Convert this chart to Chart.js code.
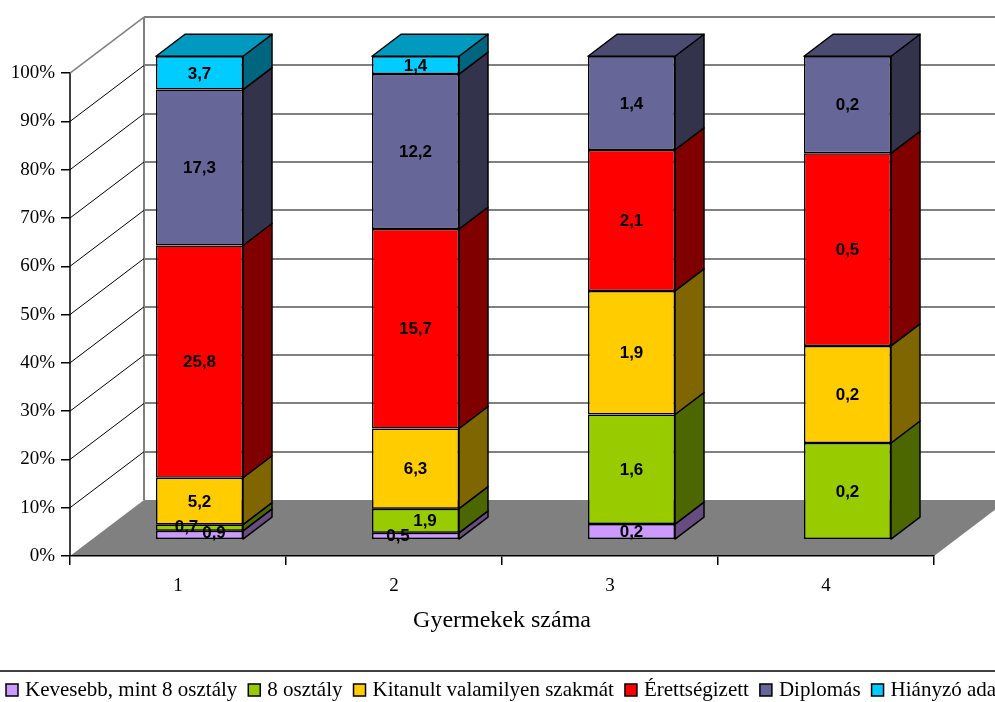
<!DOCTYPE html>
<html><head><meta charset="utf-8">
<script src="https://cdn.jsdelivr.net/npm/chart.js@4.4.1/dist/chart.umd.min.js"></script>
<style>html,body{margin:0;padding:0;background:#fff;overflow:hidden}canvas{display:block}</style>
</head><body>
<canvas id="c" width="995" height="702"></canvas>
<script>
// ---- data ----
const categories = ['1', '2', '3', '4'];
const seriesNames = ['Kevesebb, mint 8 osztály', '8 osztály', 'Kitanult valamilyen szakmát', 'Érettségizett', 'Diplomás', 'Hiányzó adat'];
// plotted share of each group within a bar (percent)
const kevesebbShare   = [1.7, 1.3, 3.1, null];
const osztaly8Share   = [1.3, 5.0, 22.7, 19.9];
const szakmaShare     = [9.7, 16.6, 25.6, 20.1];
const erettsegiShare  = [48.1, 41.3, 29.2, 39.9];
const diplomasShare   = [32.3, 32.1, 19.4, 20.1];
const hianyzoShare    = [6.9, 3.7, null, null];
// data labels printed on the bars
const kevesebbLabel   = [0.9, 0.5, 0.2, null];
const osztaly8Label   = [0.7, 1.9, 1.6, 0.2];
const szakmaLabel     = [5.2, 6.3, 1.9, 0.2];
const erettsegiLabel  = [25.8, 15.7, 2.1, 0.5];
const diplomasLabel   = [17.3, 12.2, 1.4, 0.2];
const hianyzoLabel    = [3.7, 1.4, null, null];
const yTickValues = [0, 10, 20, 30, 40, 50, 60, 70, 80, 90, 100];
const xTitle = 'Gyermekek száma';

// ---- styles ----
const frontColors = ['#CC99FF', '#99CC00', '#FFCC00', '#FF0000', '#666699', '#00CCFF'];
const sideColors  = ['#664C80', '#4C6600', '#806600', '#800000', '#33334C', '#006680'];
const topColors   = ['#9973BF', '#739900', '#BF9900', '#BF0000', '#4C4C73', '#0099BF'];
const shares = [kevesebbShare, osztaly8Share, szakmaShare, erettsegiShare, diplomasShare, hianyzoShare];
const labels = [kevesebbLabel, osztaly8Label, szakmaLabel, erettsegiLabel, diplomasLabel, hianyzoLabel];

// geometry of the 3D box (pixels)
const WALL_DX = 74, WALL_DY = -56;     // depth of the floor / walls
const BAR_SHIFT_X = 21.5;              // bars sit behind the front plane
const BAR_BASE_UP = 17;                // bar base above the front floor edge
const BAR_DX = 29, BAR_DY = -22;       // depth of each bar
const TOP_PAD = 15, BOTTOM_Y = 556, Y100 = 71;
const PLOT_H = BOTTOM_Y - TOP_PAD;
const PX_PER_UNIT = (BOTTOM_Y - Y100) / 100;
const CAT_W = (934 - 70) / categories.length;

const labelNudge = { '0-0': [14.5, -3], '1-0': [-13, -1], '0-1': [-17.5, -1], '1-1': [9.5, 0] };

const datasets = seriesNames.map((name, di) => ({
  label: name,
  data: categories.map((c, i) => ({ x: i + 1, y: shares[di][i] })),
  backgroundColor: frontColors[di],
  borderColor: '#000',
  borderWidth: 1.5,
  borderSkipped: false,
  inflateAmount: 0,
  barThickness: 87,
  xAxisID: 'xb',
  yAxisID: 'yb'
}));

const box3d = {
  id: 'box3d',
  beforeDraw(chart) {
    const { ctx, chartArea: ca, scales: { y } } = chart;
    const xL = ca.left, xR = ca.right;
    const y0 = y.getPixelForValue(0), y100 = y.getPixelForValue(100);
    ctx.save();
    ctx.fillStyle = '#fff';
    ctx.fillRect(0, 0, chart.width, chart.height);
    // floor
    ctx.fillStyle = '#808080';
    ctx.beginPath();
    ctx.moveTo(xL, y0); ctx.lineTo(xR, y0); ctx.lineTo(xR + WALL_DX, y0 + WALL_DY); ctx.lineTo(xL + WALL_DX, y0 + WALL_DY);
    ctx.closePath(); ctx.fill();
    // back wall grid lines
    ctx.strokeStyle = '#808080'; ctx.lineWidth = 2;
    yTickValues.forEach(v => {
      if (v === 0) return;
      const py = Math.round(y.getPixelForValue(v) + WALL_DY);
      ctx.beginPath(); ctx.moveTo(xL + WALL_DX, py); ctx.lineTo(xR + WALL_DX + 20, py); ctx.stroke();
    });
    // back wall left edge
    ctx.beginPath(); ctx.moveTo(xL + WALL_DX, y100 + WALL_DY); ctx.lineTo(xL + WALL_DX, y0 + WALL_DY); ctx.stroke();
    // top edge of side wall
    ctx.lineWidth = 1.5;
    ctx.beginPath(); ctx.moveTo(xL, y100); ctx.lineTo(xL + WALL_DX, y100 + WALL_DY); ctx.stroke();
    // side wall grid lines
    ctx.strokeStyle = '#000'; ctx.lineWidth = 1;
    yTickValues.forEach(v => {
      if (v === 0 || v === 100) return;
      const py = y.getPixelForValue(v);
      ctx.beginPath(); ctx.moveTo(xL, py); ctx.lineTo(xL + WALL_DX, py + WALL_DY); ctx.stroke();
    });
    // front vertical axis line
    ctx.lineWidth = 1.5;
    ctx.beginPath(); ctx.moveTo(xL, y100); ctx.lineTo(xL, y0); ctx.stroke();
    ctx.restore();
  },
  afterDatasetsDraw(chart) {
    const ctx = chart.ctx;
    ctx.save();
    ctx.strokeStyle = '#000'; ctx.lineWidth = 1.5; ctx.lineJoin = 'round';
    const poly = (pts, fill) => {
      ctx.beginPath(); ctx.moveTo(pts[0][0], pts[0][1]);
      for (let k = 1; k < pts.length; k++) ctx.lineTo(pts[k][0], pts[k][1]);
      ctx.closePath(); ctx.fillStyle = fill; ctx.fill(); ctx.stroke();
    };
    const n = chart.data.datasets.length;
    chart.data.datasets.forEach((ds, di) => {
      const meta = chart.getDatasetMeta(di);
      meta.data.forEach((el, i) => {
        if (shares[di][i] == null) return;
        const p = el.getProps(['x', 'y', 'base', 'width'], true);
        const l = p.x - p.width / 2, r = p.x + p.width / 2;
        poly([[r, p.y], [r + BAR_DX, p.y + BAR_DY], [r + BAR_DX, p.base + BAR_DY], [r, p.base]], sideColors[di]);
        let top = true;
        for (let k = di + 1; k < n; k++) if (shares[k][i] != null) top = false;
        if (top) poly([[l, p.y], [l + BAR_DX, p.y + BAR_DY], [r + BAR_DX, p.y + BAR_DY], [r, p.y]], topColors[di]);
      });
    });
    // data labels
    ctx.font = 'bold 17px "Liberation Sans", Arial, sans-serif';
    ctx.textAlign = 'center'; ctx.textBaseline = 'middle'; ctx.fillStyle = '#000';
    chart.data.datasets.forEach((ds, di) => {
      const meta = chart.getDatasetMeta(di);
      meta.data.forEach((el, i) => {
        const v = labels[di][i];
        if (v == null || shares[di][i] == null) return;
        const p = el.getProps(['x', 'y', 'base'], true);
        const nd = labelNudge[di + '-' + i] || [0, 0];
        ctx.fillText(v.toFixed(1).replace('.', ','), p.x + nd[0], (p.y + p.base) / 2 + nd[1] + 1);
      });
    });
    ctx.restore();
  },
  afterDraw(chart) {
    const ctx = chart.ctx;
    ctx.save();
    ctx.strokeStyle = '#000'; ctx.lineWidth = 1.5;
    ctx.beginPath(); ctx.moveTo(0, 671); ctx.lineTo(chart.width, 671); ctx.stroke();
    ctx.font = '21px "Liberation Serif", "Times New Roman", serif';
    ctx.textBaseline = 'alphabetic'; ctx.textAlign = 'left';
    let x = 6;
    chart.data.datasets.forEach((ds, di) => {
      ctx.fillStyle = frontColors[di];
      ctx.fillRect(x, 684, 12, 12);
      ctx.lineWidth = 1.5; ctx.strokeStyle = '#000';
      ctx.strokeRect(x, 684, 12, 12);
      ctx.fillStyle = '#000';
      ctx.fillText(ds.label, x + 19, 696);
      x += 19 + ctx.measureText(ds.label).width + 11;
    });
    ctx.restore();
  }
};

const serif = '"Liberation Serif", "Times New Roman", serif';
new Chart(document.getElementById('c'), {
  type: 'bar',
  data: { labels: categories, datasets },
  plugins: [box3d],
  options: {
    responsive: false,
    animation: false,
    events: [],
    layout: { padding: { left: 0, right: 995 - 934, top: TOP_PAD, bottom: 63 } },
    plugins: { legend: { display: false }, tooltip: { enabled: false } },
    scales: {
      x: {
        type: 'category',
        offset: true,
        grid: { offset: true, drawOnChartArea: false, drawTicks: true, tickLength: 9, color: '#000', lineWidth: 1.5 },
        border: { display: true, color: '#000', width: 1.5 },
        ticks: { color: '#000', padding: 10, font: { family: serif, size: 19 } },
        title: { display: true, text: xTitle, color: '#000', font: { family: serif, size: 24 }, padding: { top: 0, bottom: 4 } },
        afterFit(s) { s.height = 83; }
      },
      y: {
        type: 'linear',
        position: 'left',
        min: 0,
        max: PLOT_H / PX_PER_UNIT,
        afterBuildTicks(s) { s.ticks = yTickValues.map(v => ({ value: v })); },
        grid: { drawOnChartArea: false, drawTicks: true, tickLength: 9, color: '#000', lineWidth: 1.5 },
        border: { display: false },
        ticks: { color: '#000', padding: 6, font: { family: serif, size: 19 }, callback: v => v + '%' },
        afterFit(s) { s.width = 70; }
      },
      xb: {
        type: 'linear', display: false, stacked: true, offset: false,
        min: 0.5 - BAR_SHIFT_X / CAT_W, max: categories.length + 0.5 - BAR_SHIFT_X / CAT_W
      },
      yb: {
        type: 'linear', display: false, stacked: true,
        min: -BAR_BASE_UP / PX_PER_UNIT, max: -BAR_BASE_UP / PX_PER_UNIT + PLOT_H / PX_PER_UNIT
      }
    }
  }
});
</script>
</body></html>
